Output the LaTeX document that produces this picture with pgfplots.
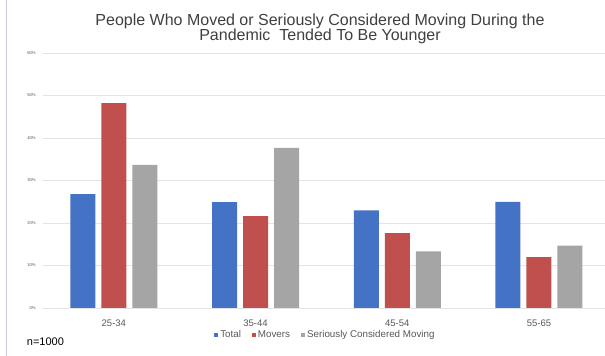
\documentclass[border=0pt]{standalone}
\usepackage{pgfplots}
\pgfplotsset{compat=1.18}
\usepackage{fontspec}
\setmainfont{Liberation Sans}
\definecolor{cBlue}{HTML}{4472C4}
\definecolor{cRed}{HTML}{C0504D}
\definecolor{cGray}{HTML}{A5A5A5}
\definecolor{cGrid}{HTML}{E4E4E4}
\definecolor{cText}{HTML}{595959}
\definecolor{cTitle}{HTML}{404040}
\definecolor{cBorder}{HTML}{C9CDD6}
\begin{document}
\begin{tikzpicture}
\useasboundingbox (0pt,0pt) rectangle (605pt,356pt);
\fill[white] (0pt,0pt) rectangle (605pt,356pt);
\draw[cBorder, line width=1pt] (6.7pt,0pt) -- (6.7pt,356pt);
\node[anchor=base, font=\fontsize{16}{18}\selectfont, text=cTitle, inner sep=0pt] at (320pt,330.3pt) {People Who Moved or Seriously Considered Moving During the};
\node[anchor=base, font=\fontsize{16}{18}\selectfont, text=cTitle, inner sep=0pt] at (320pt,315pt) {Pandemic\ \ Tended To Be Younger};
\node[anchor=base west, font=\fontsize{11}{13}\selectfont, text=black, inner sep=0pt] at (26.7pt,10pt) {n=1000};
\begin{axis}[
  at={(43pt,48pt)}, anchor=south west,
  scale only axis,
  width=562pt, height=255pt,
  xmin=-0.5, xmax=3.466,
  ymin=0, ymax=60,
  ybar=6pt, bar width=25pt,
  axis line style={draw=none},
  tick style={draw=none},
  xtick={0,1,2,3},
  xticklabels={25-34,35-44,45-54,55-65},
  ytick={0,10,20,30,40,50,60},
  yticklabels={0\%,10\%,20\%,30\%,40\%,50\%,60\%},
  ymajorgrids, major grid style={cGrid, line width=0.7pt},
  xticklabel style={font=\fontsize{9.5}{11}\selectfont, text=cText, anchor=base, yshift=-14.7pt},
  yticklabel style={font=\fontsize{4.2}{5}\selectfont, text=cText, xshift=-3.8pt},
  legend columns=3,
  legend style={at={(axis description cs:0.304,-0.106)}, anchor=west, draw=none, fill=none,
    inner sep=0pt, font=\fontsize{9.8}{11}\selectfont, text=cText,
    /tikz/every even column/.append style={column sep=9pt},
    nodes={inner xsep=1.8pt}},
  legend image code/.code={\fill[#1, draw=none] (0pt,-2pt) rectangle (4.4pt,2.4pt);},
  legend cell align=left,
]
\addplot[fill=cBlue, draw=none] coordinates {(0,26.8) (1,24.9) (2,23.0) (3,25.0)};
\addplot[fill=cRed, draw=none] coordinates {(0,48.2) (1,21.6) (2,17.6) (3,12.0)};
\addplot[fill=cGray, draw=none] coordinates {(0,33.7) (1,37.7) (2,13.3) (3,14.7)};
\legend{Total,Movers,Seriously Considered Moving}
\end{axis}
\end{tikzpicture}
\end{document}
